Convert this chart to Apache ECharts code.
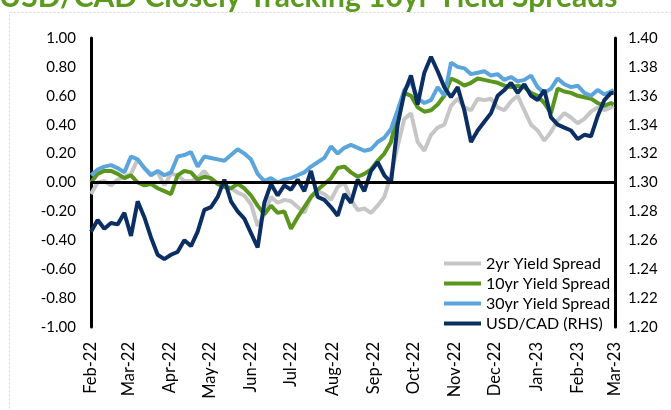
<!DOCTYPE html>
<html>
<head>
<meta charset="utf-8">
<script src="https://cdn.jsdelivr.net/npm/echarts@6/dist/echarts.min.js"></script>
<style>
  html, body { margin: 0; padding: 0; background: #fff; }
  #chart { width: 671px; height: 410px; }
</style>
</head>
<body>
<div id="chart"></div>
<script>
// sample dates: every 5 days from 1 Feb 2022, last point end of Feb 2023
const startDay = '2022-02-01';
const stepDays = 5;

const monthTicks = ['2022-02-01', '2022-03-01', '2022-04-01', '2022-05-01', '2022-06-01', '2022-07-01',
  '2022-08-01', '2022-09-01', '2022-10-01', '2022-11-01', '2022-12-01', '2023-01-01', '2023-02-01', '2023-03-01'];
const monthNames = ['Jan', 'Feb', 'Mar', 'Apr', 'May', 'Jun', 'Jul', 'Aug', 'Sep', 'Oct', 'Nov', 'Dec'];

const leftTicks = [-1.0, -0.8, -0.6, -0.4, -0.2, 0.0, 0.2, 0.4, 0.6, 0.8, 1.0];
const rightTicks = [1.20, 1.22, 1.24, 1.26, 1.28, 1.30, 1.32, 1.34, 1.36, 1.38, 1.40];

const spread2y = [
  -0.08, 0.00, 0.01, -0.02, 0.02, 0.04, 0.06, 0.16, 0.10, 0.06,
  0.07, -0.02, 0.06, 0.05, 0.01, 0.01, 0.03, 0.08, 0.02, 0.00,
  -0.02, -0.04, -0.07, -0.09, -0.15, -0.30, -0.22, -0.10, -0.14, -0.12,
  -0.13, -0.17, -0.21, -0.10, -0.06, -0.08, -0.12, -0.03, 0.00, -0.12,
  -0.19, -0.18, -0.21, -0.16, -0.10, 0.05, 0.25, 0.44, 0.48, 0.28,
  0.22, 0.33, 0.38, 0.40, 0.53, 0.58, 0.52, 0.50, 0.58, 0.57,
  0.58, 0.52, 0.50, 0.56, 0.60, 0.50, 0.40, 0.36, 0.29, 0.35,
  0.43, 0.48, 0.45, 0.41, 0.44, 0.49, 0.52, 0.50, 0.52, 0.53
];
const spread10y = [
  0.00, 0.06, 0.08, 0.08, 0.06, 0.03, 0.05, 0.00, -0.02, -0.01,
  -0.04, -0.06, -0.08, 0.05, 0.08, 0.07, 0.02, 0.04, 0.03, -0.01,
  -0.03, -0.04, -0.01, -0.04, -0.09, -0.16, -0.22, -0.16, -0.21, -0.20,
  -0.32, -0.24, -0.17, -0.10, -0.05, -0.01, 0.03, 0.10, 0.11, 0.07,
  0.04, 0.06, 0.09, 0.15, 0.20, 0.28, 0.48, 0.62, 0.60, 0.52,
  0.49, 0.50, 0.54, 0.60, 0.72, 0.70, 0.67, 0.69, 0.72, 0.71,
  0.70, 0.69, 0.67, 0.66, 0.67, 0.66, 0.62, 0.60, 0.55, 0.48,
  0.65, 0.63, 0.62, 0.60, 0.59, 0.58, 0.55, 0.53, 0.55, 0.54
];
const spread30y = [
  0.05, 0.09, 0.11, 0.12, 0.10, 0.07, 0.18, 0.16, 0.10, 0.05,
  0.08, 0.05, 0.07, 0.18, 0.19, 0.21, 0.11, 0.18, 0.17, 0.16,
  0.15, 0.19, 0.23, 0.20, 0.16, 0.06, 0.01, 0.03, 0.00, 0.02,
  0.03, 0.05, 0.07, 0.11, 0.14, 0.17, 0.25, 0.20, 0.24, 0.26,
  0.24, 0.22, 0.23, 0.28, 0.31, 0.37, 0.50, 0.64, 0.70, 0.58,
  0.55, 0.57, 0.66, 0.60, 0.83, 0.80, 0.79, 0.75, 0.76, 0.77,
  0.74, 0.75, 0.71, 0.73, 0.70, 0.71, 0.74, 0.66, 0.62, 0.65,
  0.72, 0.68, 0.66, 0.67, 0.62, 0.60, 0.64, 0.61, 0.63, 0.64
];
const usdcad = [
  1.266, 1.274, 1.268, 1.272, 1.271, 1.279, 1.263, 1.287, 1.276, 1.262,
  1.250, 1.247, 1.250, 1.252, 1.260, 1.256, 1.266, 1.281, 1.283, 1.290,
  1.302, 1.287, 1.280, 1.275, 1.265, 1.255, 1.286, 1.299, 1.291, 1.298,
  1.295, 1.302, 1.294, 1.308, 1.290, 1.288, 1.283, 1.277, 1.292, 1.286,
  1.302, 1.294, 1.308, 1.314, 1.305, 1.300, 1.340, 1.362, 1.374, 1.354,
  1.376, 1.387, 1.377, 1.366, 1.359, 1.366, 1.350, 1.328, 1.336, 1.342,
  1.348, 1.360, 1.364, 1.369, 1.362, 1.368, 1.360, 1.357, 1.364, 1.345,
  1.340, 1.338, 1.336, 1.330, 1.333, 1.332, 1.346, 1.357, 1.362, 1.362
];

const toTime = (s) => new Date(s + 'T00:00:00').getTime();

function buildDates(n) {
  const out = [];
  const t0 = toTime(startDay);
  for (let i = 0; i < n - 1; i++) out.push(t0 + i * stepDays * 86400000);
  out.push(toTime('2023-02-28'));
  return out;
}
const dates = buildDates(spread2y.length);
const pair = (vals) => vals.map((v, i) => [dates[i], v]);
const tickTimes = monthTicks.map(toTime);

const font = 'Lato';
const chart = echarts.init(document.getElementById('chart'));

chart.setOption({
  animation: false,
  backgroundColor: '#fff',
  title: {
    text: 'USD/CAD Closely Tracking 10yr Yield Spreads',
    left: -6,
    top: -23,
    textStyle: { color: '#5b9a1e', fontSize: 30, fontWeight: 'bold', fontFamily: font }
  },
  graphic: [{
    type: 'rect',
    shape: { x: 9.5, y: 12.5, width: 700, height: 450 },
    style: { fill: 'none', stroke: '#d4d4d4', lineWidth: 1, lineDash: [2, 2] },
    silent: true
  }],
  grid: { left: 91, right: 56, top: 38, bottom: 83 },
  legend: {
    orient: 'vertical',
    left: 439,
    top: 250,
    icon: 'rect',
    itemWidth: 37,
    itemHeight: 4,
    itemGap: 3,
    textStyle: { color: '#000', fontSize: 16, lineHeight: 17, fontFamily: font },
    data: ['2yr Yield Spread', '10yr Yield Spread', '30yr Yield Spread', 'USD/CAD (RHS)']
  },
  xAxis: {
    type: 'value',
    min: tickTimes[0],
    max: tickTimes[tickTimes.length - 1],
    axisLine: { show: false },
    axisTick: { show: false },
    splitLine: { show: false },
    axisLabel: {
      customValues: tickTimes,
      rotate: 90,
      margin: 15,
      color: '#000',
      fontSize: 16.5,
      fontFamily: font,
      formatter: (val) => {
        const d = new Date(val);
        return monthNames[d.getMonth()] + '-' + String(d.getFullYear()).slice(2);
      }
    }
  },
  yAxis: [{
    type: 'value',
    min: leftTicks[0],
    max: leftTicks[leftTicks.length - 1],
    interval: 0.2,
    axisLine: { show: true, lineStyle: { color: '#000', width: 3 } },
    axisTick: { show: false },
    splitLine: { show: false },
    axisLabel: { color: '#000', fontSize: 15, fontFamily: font, margin: 15, formatter: v => v.toFixed(2) }
  }, {
    type: 'value',
    position: 'right',
    min: rightTicks[0],
    max: rightTicks[rightTicks.length - 1],
    interval: 0.02,
    axisLine: { show: true, lineStyle: { color: '#000', width: 3 } },
    axisTick: { show: false },
    splitLine: { show: false },
    axisLabel: { color: '#000', fontSize: 15, fontFamily: font, margin: 13, formatter: v => v.toFixed(2) }
  }],
  series: [{
    name: '2yr Yield Spread',
    type: 'line',
    data: pair(spread2y),
    showSymbol: false,
    lineStyle: { color: '#c6c6c6', width: 4 },
    itemStyle: { color: '#c6c6c6' },
    markLine: {
      silent: true,
      symbol: 'none',
      label: { show: false },
      lineStyle: { color: '#000', width: 3, type: 'solid' },
      data: [{ yAxis: 0 }]
    }
  }, {
    name: '10yr Yield Spread',
    type: 'line',
    data: pair(spread10y),
    showSymbol: false,
    lineStyle: { color: '#5a961e', width: 4 },
    itemStyle: { color: '#5a961e' }
  }, {
    name: '30yr Yield Spread',
    type: 'line',
    data: pair(spread30y),
    showSymbol: false,
    lineStyle: { color: '#5ba5dc', width: 4 },
    itemStyle: { color: '#5ba5dc' }
  }, {
    name: 'USD/CAD (RHS)',
    type: 'line',
    yAxisIndex: 1,
    data: pair(usdcad),
    showSymbol: false,
    lineStyle: { color: '#0b2f63', width: 4 },
    itemStyle: { color: '#0b2f63' }
  }]
});
</script>
</body>
</html>
